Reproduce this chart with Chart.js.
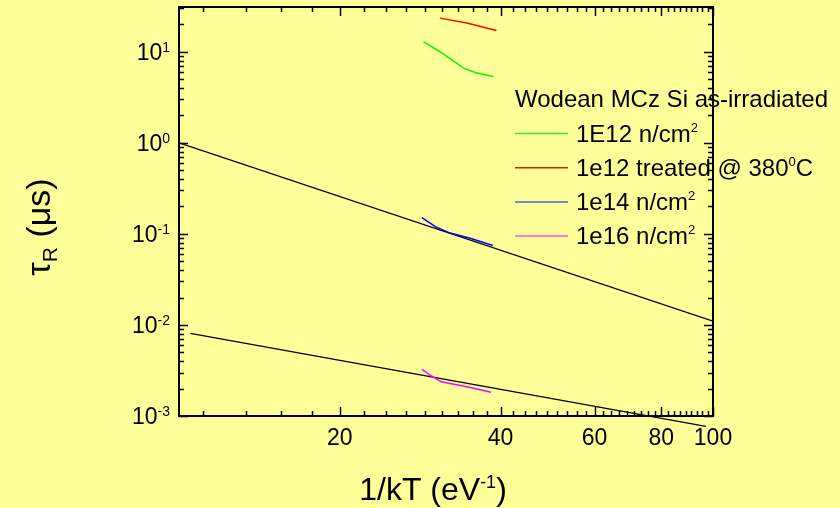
<!DOCTYPE html>
<html>
<head>
<meta charset="utf-8">
<script src="https://cdn.jsdelivr.net/npm/chart.js@4.4.1/dist/chart.umd.min.js"></script>
<style>
  html, body { margin: 0; padding: 0; background: #FFFF99; }
  canvas { display: block; }
</style>
</head>
<body>
<canvas id="myChart" width="840" height="508"></canvas>
<script>
// values (x = 1/kT in eV^-1, y = tau_R in us)
const x1e12 = [28.7, 30.8, 32.4, 34.1, 36.1, 38.8]
const tau1e12 = [12.9, 10.0, 8.2, 6.6, 5.85, 5.35]

const x1e12t = [30.8, 34.6, 39.3]
const tau1e12t = [23.4, 20.7, 17.1]

const x1e14 = [28.5, 30.2, 32.2, 35.1, 38.7]
const tau1e14 = [0.151, 0.120, 0.102, 0.0897, 0.0744]

const x1e16 = [28.5, 29.7, 31.0, 34.6, 38.4]
const tau1e16 = [0.00326, 0.00275, 0.00238, 0.0021, 0.00182]

const xFitA = [10, 100]
const tauFitA = [1.0, 0.011]
const xFitB = [10.5, 97]
const tauFitB = [0.0081, 0.00077]

const xMajor = [20, 40, 60, 80, 100]
const xLabels = ['20', '40', '60', '80', '100']
const yMajor = [0.001, 0.01, 0.1, 1, 10]
const yExp = ['-3', '-2', '-1', '0', '1']

const legendTitle = 'Wodean MCz Si as-irradiated'
const legendNames = [['1E12 n/cm', '2', ''], ['1e12 treated @ 380', '0', 'C'], ['1e14 n/cm', '2', ''], ['1e16 n/cm', '2', '']]
const colores = ['#00FF00', '#FF0000', '#0000FF', '#FF00FF']
const legendColors = ['#33EE33', '#CC2200', '#4466CC', '#FF55DD']

const FONT = 'Arial, "Liberation Sans", sans-serif'

function pares(xs, ys) {
    return xs.map((x, i) => ({ x: x, y: ys[i] }))
}

// draws base + superscript (+ tail) text
function textSup(ctx, x, y, base, sup, tail, size, supSize, raise, align) {
    ctx.font = size + 'px ' + FONT
    const w1 = ctx.measureText(base).width
    const w3 = ctx.measureText(tail).width
    ctx.font = supSize + 'px ' + FONT
    const w2 = ctx.measureText(sup).width
    const total = w1 + w2 + w3
    let sx = x
    if (align === 'right') sx = x - total
    if (align === 'center') sx = x - total / 2
    ctx.textAlign = 'left'
    ctx.textBaseline = 'alphabetic'
    ctx.font = size + 'px ' + FONT
    ctx.fillText(base, sx, y)
    ctx.font = supSize + 'px ' + FONT
    ctx.fillText(sup, sx + w1, y - raise)
    ctx.font = size + 'px ' + FONT
    ctx.fillText(tail, sx + w1 + w2, y)
    return total
}

const fondo = {
    id: 'fondo',
    beforeDraw(chart) {
        const ctx = chart.ctx
        ctx.save()
        ctx.fillStyle = '#FFFF99'
        ctx.fillRect(0, 0, chart.width, chart.height)
        ctx.restore()
    }
}

const ejes = {
    id: 'ejes',
    afterDraw(chart) {
        const ctx = chart.ctx
        const a = chart.chartArea
        const xs = chart.scales.x
        const ys = chart.scales.y
        ctx.save()
        ctx.strokeStyle = '#000'
        ctx.fillStyle = '#000'

        // frame
        ctx.lineWidth = 2
        ctx.strokeRect(a.left, a.top, a.right - a.left, a.bottom - a.top)

        // x ticks (inward, bottom and top)
        ctx.lineWidth = 1.5
        const xMinor = []
        const paso = 20 / 9
        for (let v = 20 - paso; v > 10; v -= paso) xMinor.push(v)
        for (let i = 0; i < xMajor.length - 1; i++) {
            for (let k = 1; k < 9; k++) xMinor.push(xMajor[i] + k * paso)
        }
        const tickX = (v, len) => {
            const p = Math.round(xs.getPixelForValue(v)) + 0.5
            ctx.beginPath()
            ctx.moveTo(p, a.bottom); ctx.lineTo(p, a.bottom - len)
            ctx.moveTo(p, a.top); ctx.lineTo(p, a.top + len)
            ctx.stroke()
        }
        xMinor.forEach(v => tickX(v, 5))
        xMajor.forEach(v => tickX(v, 9))

        // y ticks (inward, left and right)
        const tickY = (v, len) => {
            const p = Math.round(ys.getPixelForValue(v)) + 0.5
            ctx.beginPath()
            ctx.moveTo(a.left, p); ctx.lineTo(a.left + len, p)
            ctx.moveTo(a.right, p); ctx.lineTo(a.right - len, p)
            ctx.stroke()
        }
        yMajor.forEach(d => {
            for (let k = 2; k <= 9; k++) {
                if (d * k <= ys.max) tickY(d * k, 5)
            }
            tickY(d, 9)
        })

        // x tick labels
        ctx.font = '23px ' + FONT
        ctx.textAlign = 'center'
        ctx.textBaseline = 'alphabetic'
        xMajor.forEach((v, i) => {
            ctx.fillText(xLabels[i], xs.getPixelForValue(v), 445)
        })

        // y tick labels 10^n
        yMajor.forEach((v, i) => {
            const p = ys.getPixelForValue(v)
            textSup(ctx, 170, p + 8, '10', yExp[i], '', 23, 14, 8, 'right')
        })

        // x axis title
        textSup(ctx, 433, 500, '1/kT (eV', '-1', ')', 32, 18, 12, 'center')

        // y axis title, rotated
        ctx.save()
        ctx.translate(50, 227)
        ctx.rotate(-Math.PI / 2)
        ctx.font = '34px ' + FONT
        const wTau = ctx.measureText('\u03C4').width
        const wRest = ctx.measureText(' (\u03BCs)').width
        ctx.font = '21px ' + FONT
        const wR = ctx.measureText('R').width
        const sx = -(wTau + wR + wRest) / 2
        ctx.textAlign = 'left'
        ctx.font = '34px ' + FONT
        ctx.fillText('\u03C4', sx, 0)
        ctx.font = '21px ' + FONT
        ctx.fillText('R', sx + wTau, 7)
        ctx.font = '34px ' + FONT
        ctx.fillText(' (\u03BCs)', sx + wTau + wR, 0)
        ctx.restore()

        // legend
        ctx.font = '24px ' + FONT
        ctx.textAlign = 'left'
        ctx.fillText(legendTitle, 515, 107)
        legendNames.forEach((n, i) => {
            const yl = 133.5 + i * 34.2
            ctx.strokeStyle = legendColors[i]
            ctx.lineWidth = 1.5
            ctx.beginPath()
            ctx.moveTo(515, yl); ctx.lineTo(568, yl)
            ctx.stroke()
            textSup(ctx, 576, yl + 8, n[0], n[1], n[2], 24, 13, 10, 'left')
        })
        ctx.restore()
    }
}

const ctx = document.getElementById('myChart')

const mychart = new Chart(ctx, {
    type: 'scatter',
    data: {
        datasets: [
            { label: legendNames[0][0], data: pares(x1e12, tau1e12), borderColor: colores[0], borderWidth: 1.5 },
            { label: legendNames[1][0], data: pares(x1e12t, tau1e12t), borderColor: colores[1], borderWidth: 1.5 },
            { label: legendNames[2][0], data: pares(x1e14, tau1e14), borderColor: colores[2], borderWidth: 1.5 },
            { label: legendNames[3][0], data: pares(x1e16, tau1e16), borderColor: colores[3], borderWidth: 1.5 },
            { label: 'fit A', data: pares(xFitA, tauFitA), borderColor: '#000', borderWidth: 1.3 },
            { label: 'fit B', data: pares(xFitB, tauFitB), borderColor: '#000', borderWidth: 1.3, clip: false }
        ]
    },
    options: {
        responsive: false,
        animation: false,
        showLine: true,
        elements: {
            point: { radius: 0, hoverRadius: 0 },
            line: { tension: 0, fill: false }
        },
        layout: {
            padding: { left: 179, right: 127, top: 7, bottom: 92 }
        },
        plugins: {
            legend: { display: false },
            tooltip: { enabled: false }
        },
        scales: {
            x: { type: 'logarithmic', min: 10, max: 100, display: false },
            y: { type: 'logarithmic', min: 0.001, max: 31, display: false }
        }
    },
    plugins: [fondo, ejes]
})
</script>
</body>
</html>
